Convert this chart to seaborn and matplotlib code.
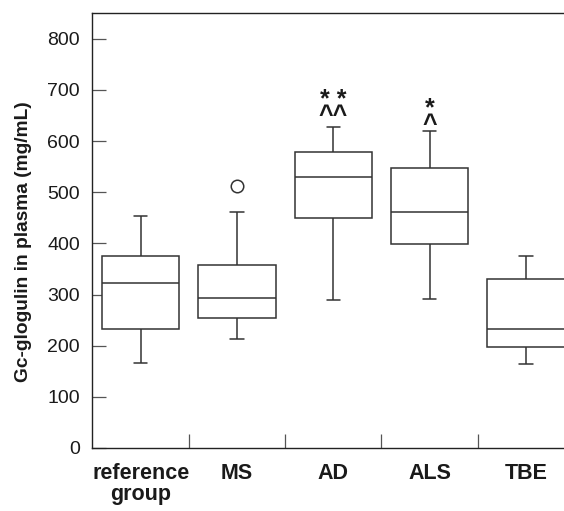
import numpy as np
import pandas as pd
import matplotlib
matplotlib.use("Agg")
import matplotlib.pyplot as plt
import seaborn as sbs


# Groups and values (each list reproduces the box stats)
groups = ["reference\ngroup", "MS", "AD", "ALS", "TBE"]
ref_vals = [166, 233, 233, 323, 323, 323, 376, 376, 453]
ms_vals = [214, 254, 254, 293, 293, 357, 357, 461, 513]
ad_vals = [290, 449, 449, 530, 530, 530, 579, 579, 627]
als_vals = [292, 399, 399, 461, 461, 461, 548, 548, 619]
tbe_vals = [165, 197, 197, 233, 233, 233, 331, 331, 375]

# significance marks above the groups
mark_idx = [2, 3]
mark_txt = ["* *\n^^", "*\n^"]
mark_y = [665, 648]

values = [ref_vals, ms_vals, ad_vals, als_vals, tbe_vals]
data = pd.DataFrame({
    "group": np.repeat(groups, [len(v) for v in values]),
    "value": np.concatenate(values),
})

sbs.set_style("white")
plt.rcParams["font.family"] = ["Liberation Sans", "DejaVu Sans"]

fig = plt.figure(figsize = (5.64, 5.11), dpi = 100)
ax = fig.add_axes([0.164, 0.1233, 0.854, 0.851])

line_col = "#333333"
sbs.boxplot(data = data, x = "group", y = "value", order = groups,
            width = 0.8,
            color = "white",
            linecolor = line_col,
            linewidth = 1.1,
            fliersize = 9,
            flierprops = dict(marker = "o", markerfacecolor = "none",
                              markeredgecolor = line_col, markeredgewidth = 1.1),
            capwidths = 0.14,
            ax = ax)

for i, t, y in zip(mark_idx, mark_txt, mark_y):
    ax.text(i, y, t, ha = "center", va = "center", fontsize = 18, fontweight = "bold",
            linespacing = 0.6, color = "#1a1a1a")

ax.set_xlim(-0.5, 4.5)
ax.set_ylim(0, 850)
ax.set_yticks(range(0, 900, 100))
ax.set_xlabel("")
ax.set_ylabel("Gc-glogulin in plasma (mg/mL)", fontsize = 13.8, fontweight = "bold",
              color = "#1a1a1a")
ax.yaxis.set_label_coords(-0.126, 0.474)

ax.tick_params(axis = "y", direction = "in", length = 10, width = 0.9, color = "#555555",
               labelsize = 14, pad = 9, left = True, labelcolor = "#1a1a1a")
ax.tick_params(axis = "x", which = "major", length = 0, labelsize = 15.5, pad = 11,
               labelcolor = "#1a1a1a")
ax.set_xticks([0.5, 1.5, 2.5, 3.5], minor = True)
ax.tick_params(axis = "x", which = "minor", direction = "in", length = 10, width = 0.9,
               color = "#555555", bottom = True)
for lab in ax.get_xticklabels():
    lab.set_fontweight("bold")
    lab.set_linespacing(1.0)

for sp in ax.spines.values():
    sp.set_color("#222222")
    sp.set_linewidth(1.0)

fig.savefig("out.png", dpi = 100)
